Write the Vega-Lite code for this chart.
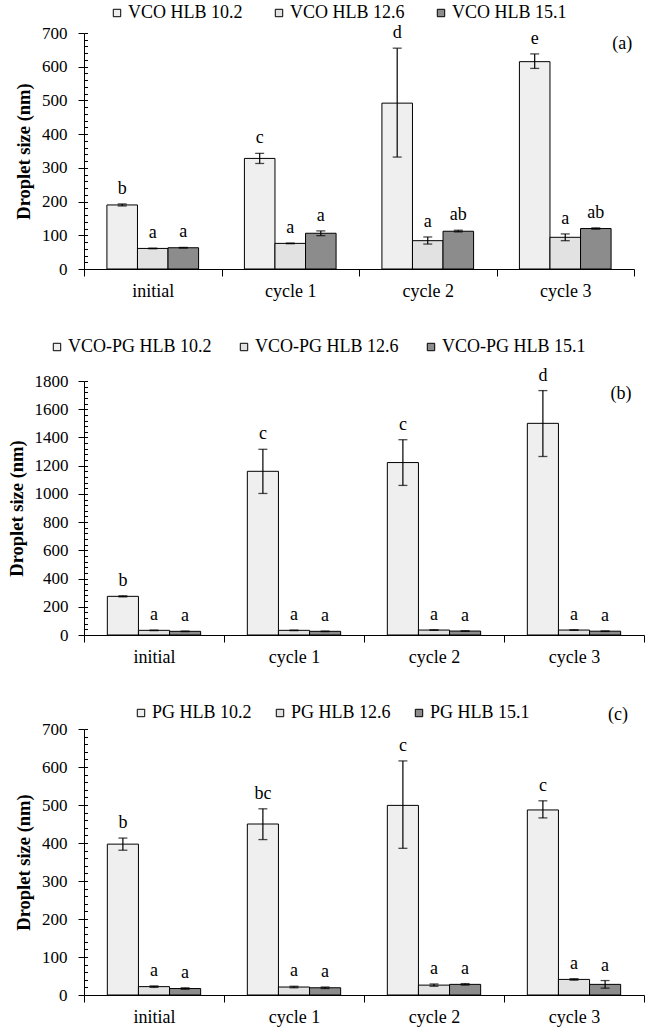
{
  "$schema": "https://vega.github.io/schema/vega-lite/v6.json",
  "padding": {"left": 7, "top": 4, "right": 5, "bottom": 5},
  "spacing": 38,
  "config": {
    "font": "Liberation Serif",
    "view": {"stroke": null},
    "axis": {"domainColor": "black", "tickColor": "black", "labelColor": "black", "titleColor": "black", "labelFont": "Liberation Serif", "titleFont": "Liberation Serif", "grid": false, "domainWidth": 1, "tickWidth": 1},
    "legend": {"labelFont": "Liberation Serif", "labelColor": "black"},
    "text": {"font": "Liberation Serif", "fontSize": 18, "color": "black"}
  },
  "resolve": {"scale": {"fill": "independent", "y": "independent", "x": "independent", "xOffset": "independent"}},
  "vconcat": [
    {
      "width": 550,
      "height": 236,
      "data": {"values": [
        {"cycle": "initial", "series": "VCO HLB 10.2", "value": 190, "lo": 187, "hi": 193, "letter": "b"},
        {"cycle": "initial", "series": "VCO HLB 12.6", "value": 61, "lo": 60, "hi": 62, "letter": "a"},
        {"cycle": "initial", "series": "VCO HLB 15.1", "value": 63, "lo": 62, "hi": 64, "letter": "a"},
        {"cycle": "cycle 1", "series": "VCO HLB 10.2", "value": 328, "lo": 313, "hi": 343, "letter": "c"},
        {"cycle": "cycle 1", "series": "VCO HLB 12.6", "value": 76, "lo": 75, "hi": 77, "letter": "a"},
        {"cycle": "cycle 1", "series": "VCO HLB 15.1", "value": 106, "lo": 99, "hi": 113, "letter": "a"},
        {"cycle": "cycle 2", "series": "VCO HLB 10.2", "value": 492, "lo": 332, "hi": 655, "letter": "d"},
        {"cycle": "cycle 2", "series": "VCO HLB 12.6", "value": 84, "lo": 74, "hi": 95, "letter": "a"},
        {"cycle": "cycle 2", "series": "VCO HLB 15.1", "value": 112, "lo": 110, "hi": 115, "letter": "ab"},
        {"cycle": "cycle 3", "series": "VCO HLB 10.2", "value": 615, "lo": 595, "hi": 638, "letter": "e"},
        {"cycle": "cycle 3", "series": "VCO HLB 12.6", "value": 94, "lo": 84, "hi": 104, "letter": "a"},
        {"cycle": "cycle 3", "series": "VCO HLB 15.1", "value": 120, "lo": 118, "hi": 122, "letter": "ab"}
      ]},
      "encoding": {
        "x": {"field": "cycle", "type": "nominal", "scale": {"domain": ["initial", "cycle 1", "cycle 2", "cycle 3"], "paddingInner": 0, "paddingOuter": 0},
              "axis": {"title": null, "labelFontSize": 18, "labelAngle": 0, "tickBand": "extent", "tickSize": 7, "labelPadding": 6}}
      },
      "layer": [
        {
          "mark": {"type": "bar", "stroke": "black", "strokeWidth": 1, "strokeOpacity": 1},
          "encoding": {
            "xOffset": {"field": "series", "type": "nominal", "scale": {"paddingInner": 0, "paddingOuter": 0.75}},
            "y": {"field": "value", "type": "quantitative", "scale": {"domain": [0, 700], "nice": false},
                  "axis": {"orient": "left", "title": "Droplet size (nm)", "titleFontSize": 18.5, "titleFontWeight": "bold", "titlePadding": 8, "labelFontSize": 17, "tickSize": 6, "labelPadding": 11, "format": "d", "values": [0, 100, 200, 300, 400, 500, 600, 700]}},
            "fill": {"field": "series", "type": "nominal", "scale": {"range": ["#efefef", "#e2e2e2", "#8c8c8c"]},
                      "legend": {"orient": "none", "legendX": 24, "legendY": -29, "direction": "horizontal", "title": null, "symbolType": "square", "symbolSize": 55, "symbolStrokeColor": "black", "symbolStrokeWidth": 1, "labelFontSize": 18, "labelOffset": 2, "columnPadding": 27}}
          }
        },
        {
          "mark": {"type": "rule", "color": "black", "strokeWidth": 1.2},
          "encoding": {
            "xOffset": {"field": "series", "type": "nominal"},
            "y": {"field": "lo", "type": "quantitative", "axis": {"orient": "left", "title": null, "labels": false, "domain": false, "tickSize": -3.5, "values": [0,20,40,60,80,100,120,140,160,180,200,220,240,260,280,300,320,340,360,380,400,420,440,460,480,500,520,540,560,580,600,620,640,660,680,700]}},
            "y2": {"field": "hi"}
          }
        },
        {
          "mark": {"type": "tick", "color": "black", "size": 9, "thickness": 1.3},
          "encoding": {"xOffset": {"field": "series", "type": "nominal"}, "y": {"field": "lo", "type": "quantitative", "axis": null}}
        },
        {
          "mark": {"type": "tick", "color": "black", "size": 9, "thickness": 1.3},
          "encoding": {"xOffset": {"field": "series", "type": "nominal"}, "y": {"field": "hi", "type": "quantitative", "axis": null}}
        },
        {
          "mark": {"type": "text", "dy": -10, "fontSize": 18, "baseline": "alphabetic"},
          "encoding": {"xOffset": {"field": "series", "type": "nominal"}, "y": {"field": "hi", "type": "quantitative", "axis": null}, "text": {"field": "letter"}}
        },
        {
          "data": {"values": [{"tag": "(a)"}]},
          "mark": {"type": "text", "dx": 57, "fontSize": 18, "baseline": "middle"},
          "encoding": {"x": {"datum": "cycle 3"}, "y": {"datum": 668, "axis": null}, "text": {"field": "tag"}}
        }
      ],
      "resolve": {"axis": {"y": "independent"}}
    },
    {
      "width": 560,
      "height": 254,
      "data": {"values": [
        {"cycle": "initial", "series": "VCO-PG HLB 10.2", "value": 274, "lo": 270, "hi": 278, "letter": "b"},
        {"cycle": "initial", "series": "VCO-PG HLB 12.6", "value": 33, "lo": 31, "hi": 35, "letter": "a"},
        {"cycle": "initial", "series": "VCO-PG HLB 15.1", "value": 26, "lo": 24, "hi": 28, "letter": "a"},
        {"cycle": "cycle 1", "series": "VCO-PG HLB 10.2", "value": 1160, "lo": 1003, "hi": 1316, "letter": "c"},
        {"cycle": "cycle 1", "series": "VCO-PG HLB 12.6", "value": 33, "lo": 31, "hi": 35, "letter": "a"},
        {"cycle": "cycle 1", "series": "VCO-PG HLB 15.1", "value": 26, "lo": 24, "hi": 28, "letter": "a"},
        {"cycle": "cycle 2", "series": "VCO-PG HLB 10.2", "value": 1222, "lo": 1060, "hi": 1384, "letter": "c"},
        {"cycle": "cycle 2", "series": "VCO-PG HLB 12.6", "value": 35, "lo": 33, "hi": 37, "letter": "a"},
        {"cycle": "cycle 2", "series": "VCO-PG HLB 15.1", "value": 28, "lo": 26, "hi": 30, "letter": "a"},
        {"cycle": "cycle 3", "series": "VCO-PG HLB 10.2", "value": 1500, "lo": 1265, "hi": 1732, "letter": "d"},
        {"cycle": "cycle 3", "series": "VCO-PG HLB 12.6", "value": 35, "lo": 33, "hi": 37, "letter": "a"},
        {"cycle": "cycle 3", "series": "VCO-PG HLB 15.1", "value": 27, "lo": 25, "hi": 29, "letter": "a"}
      ]},
      "encoding": {
        "x": {"field": "cycle", "type": "nominal", "scale": {"domain": ["initial", "cycle 1", "cycle 2", "cycle 3"], "paddingInner": 0, "paddingOuter": 0},
              "axis": {"title": null, "labelFontSize": 18, "labelAngle": 0, "tickBand": "extent", "tickSize": 7, "labelPadding": 6}}
      },
      "layer": [
        {
          "mark": {"type": "bar", "stroke": "black", "strokeWidth": 1, "strokeOpacity": 1},
          "encoding": {
            "xOffset": {"field": "series", "type": "nominal", "scale": {"paddingInner": 0, "paddingOuter": 0.75}},
            "y": {"field": "value", "type": "quantitative", "scale": {"domain": [0, 1800], "nice": false},
                  "axis": {"orient": "left", "title": "Droplet size (nm)", "titleFontSize": 18.5, "titleFontWeight": "bold", "titlePadding": 8, "labelFontSize": 17, "tickSize": 6, "labelPadding": 10, "format": "d", "values": [0, 200, 400, 600, 800, 1000, 1200, 1400, 1600, 1800]}},
            "fill": {"field": "series", "type": "nominal", "scale": {"range": ["#efefef", "#e2e2e2", "#8c8c8c"]},
                      "legend": {"orient": "none", "legendX": -36, "legendY": -43, "direction": "horizontal", "title": null, "symbolType": "square", "symbolSize": 55, "symbolStrokeColor": "black", "symbolStrokeWidth": 1, "labelFontSize": 18, "labelOffset": 2, "columnPadding": 23}}
          }
        },
        {
          "mark": {"type": "rule", "color": "black", "strokeWidth": 1.2},
          "encoding": {
            "xOffset": {"field": "series", "type": "nominal"},
            "y": {"field": "lo", "type": "quantitative", "axis": {"orient": "left", "title": null, "labels": false, "domain": false, "tickSize": -3.5, "values": [0,40,80,120,160,200,240,280,320,360,400,440,480,520,560,600,640,680,720,760,800,840,880,920,960,1000,1040,1080,1120,1160,1200,1240,1280,1320,1360,1400,1440,1480,1520,1560,1600,1640,1680,1720,1760,1800]}},
            "y2": {"field": "hi"}
          }
        },
        {
          "mark": {"type": "tick", "color": "black", "size": 9, "thickness": 1.3},
          "encoding": {"xOffset": {"field": "series", "type": "nominal"}, "y": {"field": "lo", "type": "quantitative", "axis": null}}
        },
        {
          "mark": {"type": "tick", "color": "black", "size": 9, "thickness": 1.3},
          "encoding": {"xOffset": {"field": "series", "type": "nominal"}, "y": {"field": "hi", "type": "quantitative", "axis": null}}
        },
        {
          "mark": {"type": "text", "dy": -10, "fontSize": 18, "baseline": "alphabetic"},
          "encoding": {"xOffset": {"field": "series", "type": "nominal"}, "y": {"field": "hi", "type": "quantitative", "axis": null}, "text": {"field": "letter"}}
        },
        {
          "data": {"values": [{"tag": "(b)"}]},
          "mark": {"type": "text", "dx": 47, "fontSize": 18, "baseline": "middle"},
          "encoding": {"x": {"datum": "cycle 3"}, "y": {"datum": 1706, "axis": null}, "text": {"field": "tag"}}
        }
      ],
      "resolve": {"axis": {"y": "independent"}}
    },
    {
      "width": 560,
      "height": 266,
      "data": {"values": [
        {"cycle": "initial", "series": "PG HLB 10.2", "value": 397, "lo": 381, "hi": 413, "letter": "b"},
        {"cycle": "initial", "series": "PG HLB 12.6", "value": 22, "lo": 20, "hi": 24, "letter": "a"},
        {"cycle": "initial", "series": "PG HLB 15.1", "value": 17, "lo": 15, "hi": 19, "letter": "a"},
        {"cycle": "cycle 1", "series": "PG HLB 10.2", "value": 450, "lo": 409, "hi": 490, "letter": "bc"},
        {"cycle": "cycle 1", "series": "PG HLB 12.6", "value": 21, "lo": 19, "hi": 23, "letter": "a"},
        {"cycle": "cycle 1", "series": "PG HLB 15.1", "value": 19, "lo": 17, "hi": 21, "letter": "a"},
        {"cycle": "cycle 2", "series": "PG HLB 10.2", "value": 499, "lo": 386, "hi": 616, "letter": "c"},
        {"cycle": "cycle 2", "series": "PG HLB 12.6", "value": 26, "lo": 23, "hi": 29, "letter": "a"},
        {"cycle": "cycle 2", "series": "PG HLB 15.1", "value": 28, "lo": 26, "hi": 30, "letter": "a"},
        {"cycle": "cycle 3", "series": "PG HLB 10.2", "value": 487, "lo": 466, "hi": 511, "letter": "c"},
        {"cycle": "cycle 3", "series": "PG HLB 12.6", "value": 41, "lo": 39, "hi": 43, "letter": "a"},
        {"cycle": "cycle 3", "series": "PG HLB 15.1", "value": 28, "lo": 18, "hi": 38, "letter": "a"}
      ]},
      "encoding": {
        "x": {"field": "cycle", "type": "nominal", "scale": {"domain": ["initial", "cycle 1", "cycle 2", "cycle 3"], "paddingInner": 0, "paddingOuter": 0},
              "axis": {"title": null, "labelFontSize": 18, "labelAngle": 0, "tickBand": "extent", "tickSize": 7, "labelPadding": 6}}
      },
      "layer": [
        {
          "mark": {"type": "bar", "stroke": "black", "strokeWidth": 1, "strokeOpacity": 1},
          "encoding": {
            "xOffset": {"field": "series", "type": "nominal", "scale": {"paddingInner": 0, "paddingOuter": 0.75}},
            "y": {"field": "value", "type": "quantitative", "scale": {"domain": [0, 700], "nice": false},
                  "axis": {"orient": "left", "title": "Droplet size (nm)", "titleFontSize": 18.5, "titleFontWeight": "bold", "titlePadding": 8, "labelFontSize": 17, "tickSize": 6, "labelPadding": 11, "format": "d", "values": [0, 100, 200, 300, 400, 500, 600, 700]}},
            "fill": {"field": "series", "type": "nominal", "scale": {"range": ["#efefef", "#e2e2e2", "#8c8c8c"]},
                      "legend": {"orient": "none", "legendX": 48, "legendY": -25, "direction": "horizontal", "title": null, "symbolType": "square", "symbolSize": 55, "symbolStrokeColor": "black", "symbolStrokeWidth": 1, "labelFontSize": 18, "labelOffset": 2, "columnPadding": 19}}
          }
        },
        {
          "mark": {"type": "rule", "color": "black", "strokeWidth": 1.2},
          "encoding": {
            "xOffset": {"field": "series", "type": "nominal"},
            "y": {"field": "lo", "type": "quantitative", "axis": {"orient": "left", "title": null, "labels": false, "domain": false, "tickSize": -3.5, "values": [0,20,40,60,80,100,120,140,160,180,200,220,240,260,280,300,320,340,360,380,400,420,440,460,480,500,520,540,560,580,600,620,640,660,680,700]}},
            "y2": {"field": "hi"}
          }
        },
        {
          "mark": {"type": "tick", "color": "black", "size": 9, "thickness": 1.3},
          "encoding": {"xOffset": {"field": "series", "type": "nominal"}, "y": {"field": "lo", "type": "quantitative", "axis": null}}
        },
        {
          "mark": {"type": "tick", "color": "black", "size": 9, "thickness": 1.3},
          "encoding": {"xOffset": {"field": "series", "type": "nominal"}, "y": {"field": "hi", "type": "quantitative", "axis": null}}
        },
        {
          "mark": {"type": "text", "dy": -10, "fontSize": 18, "baseline": "alphabetic"},
          "encoding": {"xOffset": {"field": "series", "type": "nominal"}, "y": {"field": "hi", "type": "quantitative", "axis": null}, "text": {"field": "letter"}}
        },
        {
          "data": {"values": [{"tag": "(c)"}]},
          "mark": {"type": "text", "dx": 44, "fontSize": 18, "baseline": "middle"},
          "encoding": {"x": {"datum": "cycle 3"}, "y": {"datum": 736, "axis": null}, "text": {"field": "tag"}}
        }
      ],
      "resolve": {"axis": {"y": "independent"}}
    }
  ]
}
